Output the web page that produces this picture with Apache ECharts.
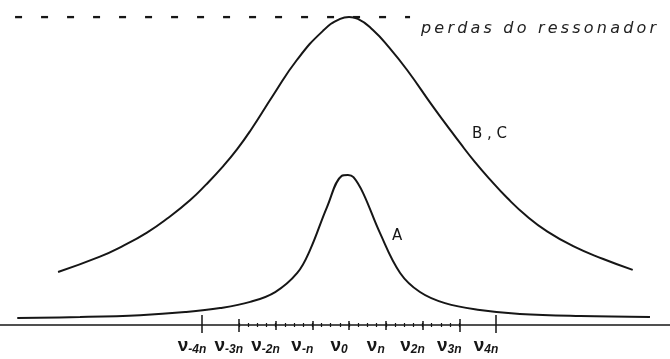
<!DOCTYPE html>
<html>
<head>
<meta charset="utf-8">
<script src="https://cdn.jsdelivr.net/npm/echarts@6/dist/echarts.min.js"></script>
<style>
  html, body { margin: 0; padding: 0; background: #fff; }
  #chart { width: 670px; height: 359px; }
</style>
</head>
<body>
<div id="chart"></div>
<script>
// Frequency offset from the line centre, in units of the mode spacing n
const bcNu   = [-7.92, -6.78, -6.20, -5.50, -4.90, -4.33, -3.90, -3.43, -3.05, -2.69, -2.07, -1.41, -0.71, -0.24, 0.00, 0.24, 0.65, 1.10, 1.58, 2.29, 2.65, 3.02, 3.40, 3.84, 4.30, 4.84, 5.40, 6.10, 6.90, 7.72];
// Relative gain of curves B, C (1 = resonator losses)
const bcGain = [0.172, 0.222, 0.254, 0.300, 0.350, 0.405, 0.455, 0.515, 0.570, 0.630, 0.745, 0.862, 0.955, 0.994, 1.000, 0.994, 0.958, 0.900, 0.828, 0.708, 0.650, 0.591, 0.533, 0.472, 0.413, 0.353, 0.303, 0.256, 0.215, 0.179];

const aNu   = [-9.03, -7.32, -5.69, -4.46, -3.51, -2.69, -2.01, -1.41, -1.06, -0.60, -0.20, -0.03, 0.12, 0.38, 0.84, 1.39, 1.93, 2.61, 3.56, 4.65, 6.29, 8.19];
// Relative gain of curve A
const aGain = [0.023, 0.026, 0.032, 0.042, 0.055, 0.075, 0.107, 0.169, 0.244, 0.383, 0.484, 0.487, 0.480, 0.429, 0.299, 0.169, 0.107, 0.071, 0.049, 0.036, 0.029, 0.026];

// Resonator loss level and the stretch of the dashed line that marks it
const lossLevel = 1.0;
const lossSpan  = [-9.09, 1.66];

// Axis ticks: mode frequencies and their subscripts
const tickNu  = [-4, -3, -2, -1, 0, 1, 2, 3, 4];
const tickSub = ['-4n', '-3n', '-2n', '-n', '0', 'n', '2n', '3n', '4n'];
const outerTicks = [-4, 4];
const thirdTicks = [-3, 3];
const innerTicks = [-2, -1, 0, 1, 2];
const fineStep = 0.25;

const X_MIN = -9.5, X_MAX = 8.735;
const INK = '#161616';

const fineTicks = [];
for (let v = thirdTicks[0]; v <= thirdTicks[1] + 1e-9; v += fineStep) fineTicks.push(+v.toFixed(2));

function tickAxis(values, len, inside, width) {
  return {
    type: 'value', gridIndex: 0, position: 'bottom', min: X_MIN, max: X_MAX,
    axisLine: { show: false },
    splitLine: { show: false },
    axisLabel: { show: false },
    axisTick: { show: true, customValues: values, length: len, inside: inside,
                lineStyle: { color: INK, width: width } }
  };
}

const chart = echarts.init(document.getElementById('chart'), null, { renderer: 'canvas' });

chart.setOption({
  animation: false,
  backgroundColor: '#fff',
  grid: { left: 0, right: 0, top: 17, bottom: 34 },
  xAxis: [
    {
      type: 'value', min: X_MIN, max: X_MAX, position: 'bottom',
      axisLine: { show: true, onZero: false, lineStyle: { color: INK, width: 1.5 } },
      splitLine: { show: false },
      axisTick: { show: true, customValues: outerTicks, length: 8, lineStyle: { color: INK, width: 1.5 } },
      axisLabel: {
        show: true,
        customValues: tickNu,
        margin: 11,
        padding: [0, 20, 0, 0],
        formatter: function (v) {
          const i = tickNu.indexOf(Math.round(v));
          return '{v|ν}{s|' + tickSub[i] + '}';
        },
        rich: {
          v: { fontFamily: 'Liberation Sans', fontSize: 19, fontWeight: 'bold', color: INK, lineHeight: 20 },
          s: { fontFamily: 'Liberation Sans', fontSize: 12, fontStyle: 'italic', fontWeight: 'bold', color: INK,
               lineHeight: 20, padding: [8, 0, 0, 0] }
        }
      }
    },
    tickAxis(outerTicks, 10, true, 1.5),
    tickAxis(thirdTicks, 7, false, 1.5),
    tickAxis(thirdTicks, 6, true, 1.5),
    tickAxis(innerTicks, 5, false, 1.5),
    tickAxis(innerTicks, 4, true, 1.5),
    tickAxis(fineTicks, 2, false, 1.2),
    tickAxis(fineTicks, 2, true, 1.2)
  ],
  yAxis: { type: 'value', min: 0, max: 1, show: false },
  series: [
    {
      name: 'B, C', type: 'line', xAxisIndex: 0, smooth: 0.5, symbol: 'none',
      lineStyle: { color: INK, width: 2 },
      data: bcNu.map((x, i) => [x, bcGain[i]])
    },
    {
      name: 'A', type: 'line', xAxisIndex: 0, smooth: 0.4, symbol: 'none',
      lineStyle: { color: INK, width: 2 },
      data: aNu.map((x, i) => [x, aGain[i]])
    },
    {
      name: 'perdas', type: 'line', xAxisIndex: 0, symbol: 'none',
      lineStyle: { color: INK, width: 2.5, type: [7, 19] },
      data: lossSpan.map(x => [x, lossLevel])
    }
  ],
  graphic: [
    {
      type: 'text', left: 421, top: 21,
      style: { text: 'perdas do ressonador'.split('').join('\u2009'),
               font: 'italic 16px "DejaVu Sans"', fill: '#222' }
    },
    {
      type: 'text', left: 472, top: 127,
      style: { text: 'B , C', font: '15px "DejaVu Sans"', fill: INK }
    },
    {
      type: 'text', left: 392, top: 229,
      style: { text: 'A', font: '15px "DejaVu Sans"', fill: INK }
    }
  ]
});
</script>
</body>
</html>
